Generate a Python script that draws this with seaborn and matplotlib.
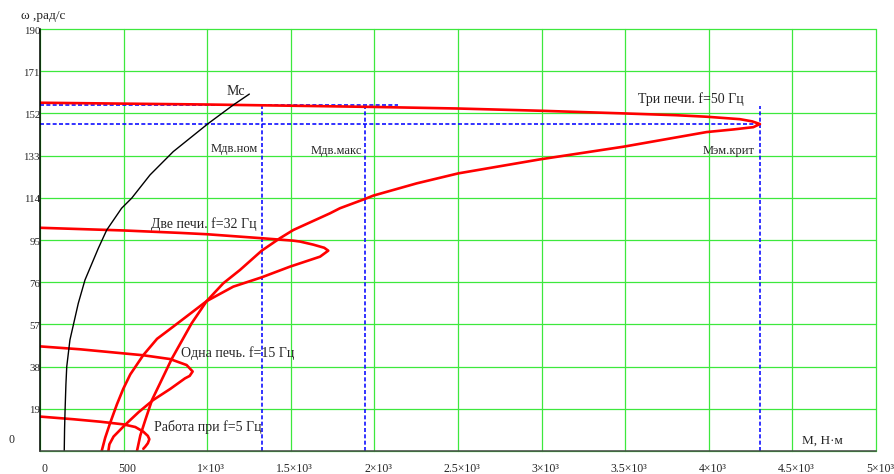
import matplotlib
matplotlib.use("Agg")
import matplotlib.pyplot as plt
import matplotlib.transforms as mtransforms
import pandas as pd
import seaborn as sns

# Mechanical characteristics omega(M) of the drive
m_50 = [0, 500, 1000, 1555, 2000, 2500, 2990, 3489, 3800, 3987, 4186, 4260, 4306,
        4266, 4150, 3987, 3489, 2990, 2502, 2253, 1994, 1944, 1794, 1734, 1515, 1435,
        1326, 1196, 1096, 997, 907, 788, 718, 670, 630, 600, 580]
w_50 = [156.8, 156.4, 156.0, 155.4, 154.9, 154.2, 153.2, 152.0, 151.2, 150.5, 149.4, 148.4, 147.2,
        145.8, 144.8, 143.6, 137.0, 131.3, 125.0, 120.5, 115.0, 113.5, 109.3, 107.0, 99.5, 95.8,
        90.2, 81.5, 75.5, 67.5, 57.5, 41.5, 30.5, 23.0, 14.0, 7.0, 0.0]

m_32 = [0, 498, 837, 997, 1326, 1515, 1555, 1635, 1700, 1724, 1675, 1495, 1326, 1156,
        997, 797, 700, 618, 540, 498, 460, 419, 390, 369]
w_32 = [100.5, 99.3, 98.2, 97.6, 95.8, 94.7, 94.3, 92.9, 91.5, 90.2, 87.5, 83.0, 78.2, 74.0,
        67.5, 56.0, 50.5, 43.2, 34.5, 28.0, 21.0, 12.5, 6.0, 0.0]

m_15 = [0, 239, 450, 618, 778, 877, 913, 895, 867, 780, 678, 590, 508, 440, 415, 409]
w_15 = [47.1, 45.8, 44.3, 43.1, 41.4, 38.7, 35.8, 33.8, 32.7, 28.0, 23.0, 17.5, 11.7, 6.5, 3.0, 0.0]

m_5 = [0, 200, 359, 498, 570, 618, 645, 654, 645, 630, 618]
w_5 = [15.5, 14.3, 13.2, 12.0, 10.8, 8.7, 6.8, 5.3, 3.5, 2.0, 1.0]

# Load torque characteristic Mc(omega)
m_load = [145, 147, 150, 155, 160, 179, 229, 269, 349, 399, 488, 548, 658, 797, 1007, 1156, 1252]
w_load = [0, 10, 18.5, 30, 38, 50, 66.5, 77, 91.3, 99.5, 109.3, 113.8, 124.3, 134.8, 147.5, 155.8, 160.7]

# Characteristic points
m_nom = 1329
m_max = 1944
m_krit = 4306
w_nom = 156.0
w_krit = 147.2
w_guide_top = 155.3
m_nom_guide_end = 2140

x_ticks = [0, 500, 1000, 1500, 2000, 2500, 3000, 3500, 4000, 4500, 5000]
x_tick_labels = ["0", "500", "1×10³", "1.5×10³", "2×10³", "2.5×10³", "3×10³",
                 "3.5×10³", "4×10³", "4.5×10³", "5×10³"]
y_ticks = [0, 19, 38, 57, 76, 95, 114, 133, 152, 171, 190]
y_tick_labels = ["", "19", "38", "57", "76", "95", "114", "133", "152", "171", "190"]

sns.set_style("white")
plt.rcParams["font.family"] = ["Liberation Serif", "DejaVu Serif"]

W, H = 894, 474
fig = plt.figure(figsize=(W / 100, H / 100), dpi=100)
ax = fig.add_axes([40 / W, 23 / H, 836 / W, 422 / H])

red = "#ff0000"
curves = [(m_50, w_50), (m_32, w_32), (m_15, w_15), (m_5, w_5)]
for m, w in curves:
    df = pd.DataFrame({"M": m, "w": w})
    sns.lineplot(data=df, x="M", y="w", sort=False, estimator=None, color=red,
                 linewidth=1.9, ax=ax, zorder=4)

df_load = pd.DataFrame({"M": m_load, "w": w_load})
sns.lineplot(data=df_load, x="M", y="w", sort=False, estimator=None, color="black",
             linewidth=1.0, ax=ax, zorder=5)

# Guide lines for the rated, maximum and critical torque
blue = "#1010ff"
dash = dict(color=blue, linewidth=1.2, linestyle=(0, (2.4, 1.4)), zorder=3)
ax.hlines(w_nom, 0, m_nom_guide_end, **dash)
ax.hlines(w_krit, 0, m_krit, **dash)
ax.vlines(m_nom, 0, w_nom, **dash)
ax.vlines(m_max, 0, w_guide_top, **dash)
ax.vlines(m_krit, 0, w_guide_top, **dash)

ax.set_xlim(0, 5000)
ax.set_ylim(0, 190)
ax.set_xticks(x_ticks)
ax.set_xticklabels(x_tick_labels, fontsize=8.5)
ax.set_yticks(y_ticks)
ax.set_yticklabels(y_tick_labels, fontsize=7.8)
ax.set_xlabel("")
ax.set_ylabel("")

ax.grid(True, color="#3de83d", linewidth=0.9, zorder=1)
for gl in ax.get_xgridlines() + ax.get_ygridlines():
    gl.set_clip_on(False)
ax.set_axisbelow(True)

for s in ("top", "right"):
    ax.spines[s].set_visible(False)
ax.spines["left"].set_color("black")
ax.spines["left"].set_linewidth(1.1)
ax.spines["bottom"].set_color("#444444")
ax.spines["bottom"].set_linewidth(1.1)
ax.spines["left"].set_zorder(6)
ax.spines["bottom"].set_zorder(6)

ax.tick_params(axis="x", direction="inout", length=4, width=0.8, color="#222222", pad=6.5)
ax.tick_params(axis="y", direction="inout", length=4, width=0.8, color="#222222", pad=-2)

shift_x = mtransforms.ScaledTranslation(4 / 100, 0, fig.dpi_scale_trans)
for lab in ax.get_xticklabels():
    lab.set_transform(lab.get_transform() + shift_x)
shift_y = mtransforms.ScaledTranslation(0, -1.0 / 100, fig.dpi_scale_trans)
for lab in ax.get_yticklabels():
    lab.set_transform(lab.get_transform() + shift_y)

# Axis captions
fig.text(21 / W, 1 - 16 / H, "ω ,рад/с", fontsize=9.5, ha="left", va="center")
fig.text(11.7 / W, 1 - 440 / H, "0", fontsize=8.5, ha="center", va="center")
ax.text(4680, 4.5, "M, Н·м", fontsize=9.5, ha="center", va="center")

# Curve captions
lbl = dict(fontsize=10, va="center")
ax.text(1172, 161.8, "Мс", ha="center", **lbl)
ax.text(3577, 158.5, "Три печи. f=50 Гц", ha="left", **lbl)
ax.text(664, 102.2, "Две печи. f=32 Гц", ha="left", **lbl)
ax.text(843, 44.1, "Одна печь. f=15 Гц", ha="left", **lbl)
ax.text(682, 10.8, "Работа при f=5 Гц", ha="left", **lbl)

small = dict(fontsize=9, va="center", ha="right")
ax.text(1304, 136, "Мдв.ном", **small)
ax.text(1926, 135, "Мдв.макс", **small)
ax.text(4276, 135, "Мэм.крит", **small)

fig.savefig("out.png", dpi=100)
